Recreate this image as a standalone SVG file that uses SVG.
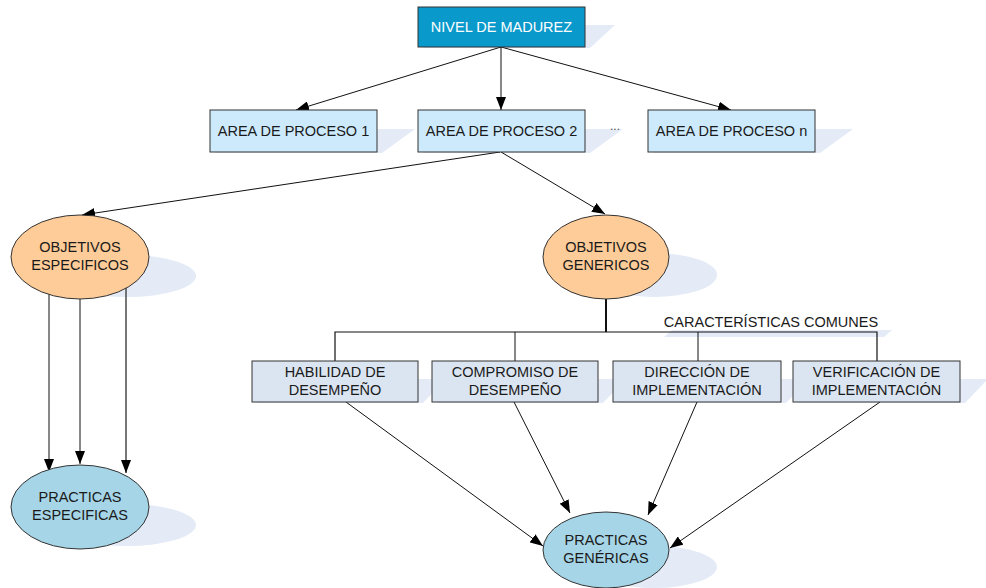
<svg xmlns="http://www.w3.org/2000/svg" width="986" height="588" viewBox="0 0 986 588">
  <style>
    .lbl { font-family: "Liberation Sans", Arial, sans-serif; font-size: 14.5px; fill: #1a1a1a; text-anchor: middle; }
    .white { fill: #ffffff; }
    .shadow { fill: #e4ebf7; }
    .box { stroke: #333333; stroke-width: 1; }
    .top { fill: #0a99cb; }
    .area { fill: #cdeafd; }
    .feat { fill: #dbe5f1; }
    .obj { fill: #fecc98; stroke: #333333; stroke-width: 1; }
    .prac { fill: #a6d5e7; stroke: #333333; stroke-width: 1; }
    .edge { stroke: #111111; stroke-width: 1; fill: none; }
    .arrow { marker-end: url(#ah); }
  </style>
  <defs>
    <marker id="ah" markerUnits="userSpaceOnUse" markerWidth="14" markerHeight="10" refX="13" refY="5" orient="auto">
      <path d="M0,0 L13,5 L0,10 Z" fill="#000000"/>
    </marker>
  </defs>
  <rect width="986" height="588" fill="#ffffff"/>

  <!-- drop shadows -->
  <g id="shadows">
    <polygon class="shadow" points="448,25 615,25 590,48 423,48"/>
    <polygon class="shadow" points="248,129 415,129 382,153 215,153"/>
    <polygon class="shadow" points="456,129 623,129 590,153 423,153"/>
    <polygon class="shadow" points="686,129 853,129 820,153 653,153"/>
    <ellipse class="shadow" cx="127" cy="276" rx="69" ry="21"/>
    <ellipse class="shadow" cx="654" cy="275" rx="63" ry="22"/>
    <polygon class="shadow" points="280,379 446,379 423,403 257,403"/>
    <polygon class="shadow" points="460,379 626,379 603,403 437,403"/>
    <polygon class="shadow" points="641,379 809,379 786,403 618,403"/>
    <polygon class="shadow" points="821,379 988,379 965,403 798,403"/>
    <polygon class="shadow" points="672,330 892,330 884,337 664,337"/>
    <ellipse class="shadow" cx="127" cy="525" rx="69" ry="21"/>
    <ellipse class="shadow" cx="654" cy="567" rx="63" ry="21"/>
  </g>

  <!-- connectors -->
  <g id="connectors">
    <line class="edge arrow" x1="501" y1="47" x2="296" y2="110"/>
    <line class="edge arrow" x1="501" y1="47" x2="501" y2="110"/>
    <line class="edge arrow" x1="501" y1="47" x2="731" y2="110"/>
    <line class="edge arrow" x1="500" y1="152" x2="82" y2="215"/>
    <line class="edge arrow" x1="501" y1="152" x2="605" y2="214"/>
    <line class="edge arrow" x1="49" y1="289" x2="49" y2="472"/>
    <line class="edge arrow" x1="80" y1="299" x2="80" y2="464"/>
    <line class="edge arrow" x1="126" y1="288" x2="126" y2="473" style="stroke:#555555;stroke-width:1.6"/>
    <line class="edge" x1="606" y1="299" x2="606" y2="332" style="stroke-width:2"/>
    <polyline class="edge" points="335,361 335,332 877,332 877,361" style="stroke-width:1.2"/>
    <line class="edge" x1="515" y1="332" x2="515" y2="361"/>
    <line class="edge" x1="698" y1="332" x2="698" y2="361"/>
    <line class="edge arrow" x1="346" y1="402" x2="543" y2="546"/>
    <line class="edge arrow" x1="514" y1="402" x2="570" y2="513"/>
    <line class="edge arrow" x1="697" y1="402" x2="648" y2="515"/>
    <line class="edge arrow" x1="880" y1="402" x2="670" y2="548"/>
    <text class="lbl" x="771" y="327">CARACTERÍSTICAS COMUNES</text>
  </g>

  <g id="nivel-madurez">
    <rect class="box top" x="418" y="7" width="167" height="40"/>
    <text class="lbl white" x="501.5" y="32">NIVEL DE MADUREZ</text>
  </g>

  <g id="area-proceso-1">
    <rect class="box area" x="210" y="110" width="167" height="42"/>
    <text class="lbl" x="293.5" y="136">AREA DE PROCESO 1</text>
  </g>
  <g id="area-proceso-2">
    <rect class="box area" x="418" y="110" width="167" height="42"/>
    <text class="lbl" x="501.5" y="136">AREA DE PROCESO 2</text>
  </g>
  <g id="ellipsis">
    <text class="lbl" x="615" y="130" style="font-size:12px;fill:#555555">...</text>
  </g>
  <g id="area-proceso-n">
    <rect class="box area" x="648" y="110" width="167" height="42"/>
    <text class="lbl" x="731.5" y="136">AREA DE PROCESO n</text>
  </g>

  <g id="objetivos-especificos">
    <ellipse class="obj" cx="80" cy="257" rx="69" ry="42"/>
    <text class="lbl" x="80" y="252">OBJETIVOS</text>
    <text class="lbl" x="80" y="270">ESPECIFICOS</text>
  </g>
  <g id="objetivos-genericos">
    <ellipse class="obj" cx="606" cy="257" rx="63" ry="42"/>
    <text class="lbl" x="606" y="252">OBJETIVOS</text>
    <text class="lbl" x="606" y="270">GENERICOS</text>
  </g>

  <g id="habilidad-desempeno">
    <rect class="box feat" x="252" y="361" width="166" height="41"/>
    <text class="lbl" x="335" y="377">HABILIDAD DE</text>
    <text class="lbl" x="335" y="395">DESEMPEÑO</text>
  </g>
  <g id="compromiso-desempeno">
    <rect class="box feat" x="432" y="361" width="166" height="41"/>
    <text class="lbl" x="515" y="377">COMPROMISO DE</text>
    <text class="lbl" x="515" y="395">DESEMPEÑO</text>
  </g>
  <g id="direccion-implementacion">
    <rect class="box feat" x="613" y="361" width="168" height="41"/>
    <text class="lbl" x="697" y="377">DIRECCIÓN DE</text>
    <text class="lbl" x="697" y="395">IMPLEMENTACIÓN</text>
  </g>
  <g id="verificacion-implementacion">
    <rect class="box feat" x="793" y="361" width="167" height="41"/>
    <text class="lbl" x="876.5" y="377">VERIFICACIÓN DE</text>
    <text class="lbl" x="876.5" y="395">IMPLEMENTACIÓN</text>
  </g>

  <g id="practicas-especificas">
    <ellipse class="prac" cx="80" cy="507" rx="69" ry="42"/>
    <text class="lbl" x="80" y="502">PRACTICAS</text>
    <text class="lbl" x="80" y="520">ESPECIFICAS</text>
  </g>
  <g id="practicas-genericas">
    <ellipse class="prac" cx="606" cy="550" rx="63" ry="38"/>
    <text class="lbl" x="606" y="545">PRACTICAS</text>
    <text class="lbl" x="606" y="563">GENÉRICAS</text>
  </g>
</svg>
